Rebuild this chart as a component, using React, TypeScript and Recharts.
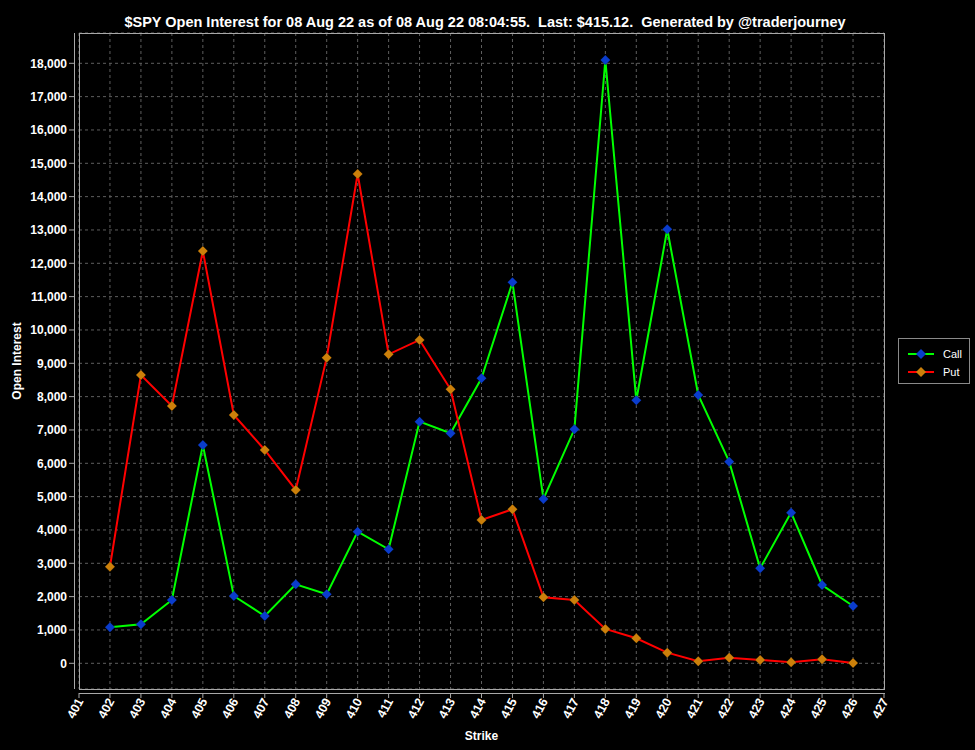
import React from 'react';
import { LineChart, Line, XAxis, YAxis, CartesianGrid, Legend, Customized } from 'recharts';

const strikes = [402, 403, 404, 405, 406, 407, 408, 409, 410, 411, 412, 413, 414, 415, 416, 417, 418, 419, 420, 421, 422, 423, 424, 425, 426];
const callOI = [1080, 1170, 1900, 6550, 2020, 1420, 2370, 2070, 3950, 3420, 7250, 6900, 8550, 11430, 4930, 7020, 18100, 7890, 13020, 8050, 6050, 2850, 4520, 2350, 1720];
const putOI = [2900, 8650, 7720, 12370, 7450, 6400, 5200, 9170, 14680, 9270, 9700, 8220, 4300, 4620, 1980, 1900, 1030, 750, 320, 60, 170, 100, 30, 120, 10];
const xTicks = [401, 402, 403, 404, 405, 406, 407, 408, 409, 410, 411, 412, 413, 414, 415, 416, 417, 418, 419, 420, 421, 422, 423, 424, 425, 426, 427];
const yTicks = [0, 1000, 2000, 3000, 4000, 5000, 6000, 7000, 8000, 9000, 10000, 11000, 12000, 13000, 14000, 15000, 16000, 17000, 18000];

const TITLE = '$SPY Open Interest for 08 Aug 22 as of 08 Aug 22 08:04:55.  Last: $415.12.  Generated by @traderjourney';

const data = strikes.map((s, i) => ({ strike: s, call: callOI[i], put: putOI[i] }));

const W = 975;
const H = 750;
const PL = 79, PT = 33, PR = 884, PB = 689;
const FONT = '"Liberation Sans", Arial, sans-serif';
const AXIS_COLOR = '#a8a8a8';

const CALL_LINE = '#00ff00';
const CALL_MARK = '#0a3ccc';
const PUT_LINE = '#ff0000';
const PUT_MARK = '#cc800a';

const diamond = (cx: number, cy: number, r: number) => `M${cx},${cy - r} L${cx + r},${cy} L${cx},${cy + r} L${cx - r},${cy} Z`;

const makeDot = (fill: string) => (p: any) => {
  const { cx, cy, index } = p;
  if (cx == null || cy == null) return <g key={`d${index}`} />;
  return <path key={`d${index}`} d={diamond(cx, cy, 5)} fill={fill} stroke="#00000055" strokeWidth={0.5} />;
};

const YTick = (p: any) => {
  const { y, payload } = p;
  return (
    <g>
      <line x1={PL - 10} x2={PL - 5} y1={y} y2={y} stroke={AXIS_COLOR} />
      <text x={PL - 12} y={y} dy="0.35em" textAnchor="end" fill="#fff" fontFamily={FONT} fontSize={12} fontWeight="bold">
        {Number(payload.value).toLocaleString('en-US')}
      </text>
    </g>
  );
};

const XTick = (p: any) => {
  const { x, payload } = p;
  const ax = x + 1;
  const ay = PB + 10;
  return (
    <g>
      <line x1={x} x2={x} y1={PB + 4} y2={PB + 9} stroke={AXIS_COLOR} />
      <text x={ax} y={ay} dy="0.35em" textAnchor="end" fill="#fff" fontFamily={FONT} fontSize={12.5} fontWeight="bold" transform={`rotate(-62 ${ax} ${ay})`}>
        {payload.value}
      </text>
    </g>
  );
};

const Decor = () => (
  <g>
    <rect x={PL + 0.5} y={PT + 0.5} width={PR - PL} height={PB - PT} fill="none" stroke={AXIS_COLOR} />
    <line x1={PL - 4.5} x2={PL - 4.5} y1={PT} y2={PB} stroke={AXIS_COLOR} />
    <line x1={PL} x2={PR + 1} y1={PB + 4.5} y2={PB + 4.5} stroke={AXIS_COLOR} />
    <text x={485} y={27} textAnchor="middle" fill="#fff" fontFamily={FONT} fontSize={14.5} fontWeight="bold" style={{ whiteSpace: 'pre' }} xmlSpace="preserve">
      {TITLE}
    </text>
    <text x={(PL + PR) / 2} y={740} textAnchor="middle" fill="#fff" fontFamily={FONT} fontSize={12} fontWeight="bold">
      Strike
    </text>
    <text x={21} y={(PT + PB) / 2} textAnchor="middle" fill="#fff" fontFamily={FONT} fontSize={12} fontWeight="bold" transform={`rotate(-90 21 ${(PT + PB) / 2})`}>
      Open Interest
    </text>
  </g>
);

const series = [
  { name: 'Call', line: CALL_LINE, mark: CALL_MARK },
  { name: 'Put', line: PUT_LINE, mark: PUT_MARK },
];

const LegendBox = () => (
  <div style={{ width: 72, height: 46, boxSizing: 'border-box', border: '1px solid #8a8a8a', background: '#000', paddingTop: 6, paddingLeft: 8 }}>
    {series.map((s) => (
      <div key={s.name} style={{ display: 'flex', alignItems: 'center', height: 18 }}>
        <svg width={28} height={12}>
          <line x1={1} x2={27} y1={6} y2={6} stroke={s.line} strokeWidth={2} />
          <path d={diamond(14, 6, 5)} fill={s.mark} />
        </svg>
        <span style={{ color: '#fff', fontFamily: FONT, fontSize: 11, marginLeft: 8 }}>{s.name}</span>
      </div>
    ))}
  </div>
);

export default function App() {
  return (
    <div style={{ position: 'absolute', left: 0, top: 0, width: W, height: H, background: '#000' }}>
      <LineChart width={W} height={H} data={data} margin={{ top: PT, right: W - PR, bottom: 0, left: 0 }}>
        <CartesianGrid stroke="#5e5e5e" strokeDasharray="3 3" />
        <XAxis
          type="number"
          dataKey="strike"
          domain={[401, 427]}
          ticks={xTicks}
          interval={0}
          height={H - PB}
          axisLine={false}
          tickLine={false}
          tick={<XTick />}
        />
        <YAxis
          type="number"
          domain={[-771, 18909]}
          ticks={yTicks}
          interval={0}
          width={PL}
          axisLine={false}
          tickLine={false}
          tick={<YTick />}
          allowDataOverflow
        />
        <Customized component={<Decor />} />
        <Line type="linear" dataKey="call" name="Call" stroke={CALL_LINE} strokeWidth={2} dot={makeDot(CALL_MARK)} activeDot={false} isAnimationActive={false} />
        <Line type="linear" dataKey="put" name="Put" stroke={PUT_LINE} strokeWidth={2} dot={makeDot(PUT_MARK)} activeDot={false} isAnimationActive={false} />
        <Legend layout="vertical" align="center" verticalAlign="middle" wrapperStyle={{ left: 898, top: 338, width: 72, height: 46 }} content={() => <LegendBox />} />
      </LineChart>
    </div>
  );
}
